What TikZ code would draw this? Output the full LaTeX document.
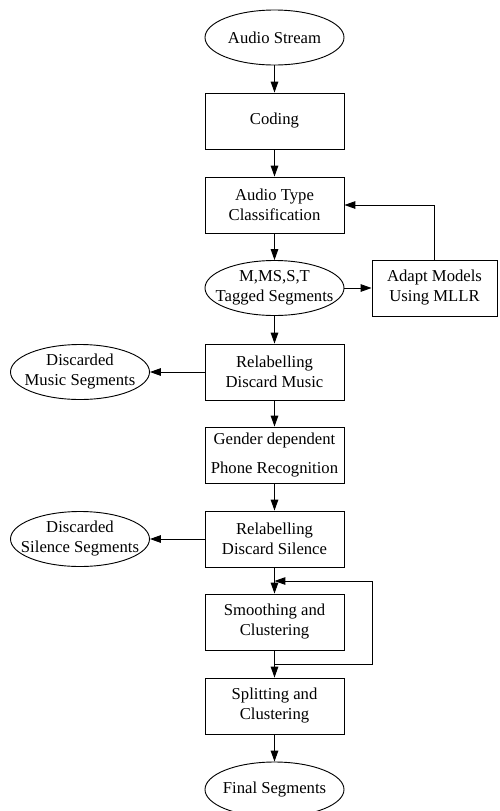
\documentclass[tikz,border=0pt]{standalone}
\usepackage{fontspec}
\setmainfont{Liberation Serif}
\usetikzlibrary{shapes.geometric,arrows.meta}

\begin{document}
\begin{tikzpicture}[x=0.6pt, y=-0.6pt, line width=0.55pt, font=\fontsize{10}{12}\selectfont,
        box/.style={rectangle, draw, align=center, minimum width=83.4pt, minimum height=33.6pt, inner sep=1pt},
        oval/.style={ellipse, draw, align=center, minimum width=83.4pt, minimum height=33pt, inner xsep=-14pt, inner ysep=-8pt},
        >={Triangle[length=6.5pt, width=4.5pt]}]
        \useasboundingbox (0,0) rectangle (500,811);
        \node(100) at (274.5,37.5) [oval] {Audio Stream};
        \node(101) at (274.5,121) [box] {Coding};
        \node(102) at (274.5,205) [box] {Audio Type\\Classification};
        \node(103) at (274.5,288) [oval] {M,MS,S,T\\Tagged Segments};
        \node(104) at (434.5,288) [box, minimum width=75pt] {Adapt Models\\Using MLLR};
        \draw [->] (100) -- (101);
        \draw [->] (101) -- (102);
        \draw [->] (102) -- (103);
        \draw [->] (103) -- (104);
        \draw [->] (104) |- (102);
        \node(111) at (274.5,372) [box] {Relabelling\\Discard Music};
        \node(112) at (80,372) [oval] {Discarded\\Music Segments};
        \node(113) at (274.5,455) [box, align=center] {Gender dependent\\[5pt]Phone Recognition};
        \node(114) at (274.5,539) [box] {Relabelling\\Discard Silence};
        \node(115) at (80,539) [oval] {Discarded\\Silence Segments};
        \draw [->] (103) -- (111);
        \draw [->] (111) -- (112);
        \draw [->] (111) -- (113);
        \draw [->] (113) -- (114);
        \draw [->] (114) -- (115);
        \node(121) at (274.5,622) [box] {Smoothing and\\Clustering};
        \node(122) at (274.5,706) [box] {Splitting and\\Clustering};
        \node(123) at (274.5,789.5) [oval] {Final Segments};
        \coordinate(131) at (274.5,581);
        \coordinate(132) at (274.5,664);
        \draw [->] (114) -- (121);
        \draw [->] (121) -- (122);
        \draw [->] (132) -- ++(97.5,0) |- (131);
        \draw [->] (122) -- (123);
    \end{tikzpicture}
\end{document}
